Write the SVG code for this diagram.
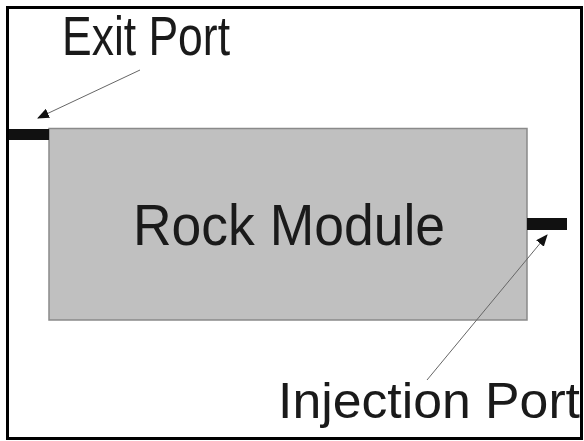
<svg xmlns="http://www.w3.org/2000/svg" width="584" height="441" viewBox="0 0 584 441">
<style>
.lbl{font-family:"Liberation Sans",Arial,sans-serif;fill:#1a1a1a;}
.port{fill:#111;}
.conn{stroke:#666;stroke-width:1;fill:none;marker-end:url(#ah);}
</style>
<defs>
<marker id="ah" markerWidth="12" markerHeight="10" refX="11" refY="5" orient="auto" markerUnits="userSpaceOnUse">
<path d="M0,0 L12,5 L0,10 Z" fill="#111"/>
</marker>
</defs>
<rect x="0" y="0" width="584" height="441" fill="#fff"/>
<rect x="7.5" y="7.5" width="574" height="431" fill="none" stroke="#000" stroke-width="3"/>
<g id="rock-module">
<rect x="49" y="128.5" width="478" height="191.5" fill="#c0c0c0" stroke="#8a8a8a" stroke-width="1.5"/>
<text class="lbl" x="133" y="245" font-size="58" textLength="312" lengthAdjust="spacingAndGlyphs">Rock Module</text>
</g>
<g id="exit-port">
<rect class="port" x="9" y="129" width="40" height="11"/>
<text class="lbl" x="62" y="55" font-size="56" textLength="168" lengthAdjust="spacingAndGlyphs">Exit Port</text>
</g>
<g id="injection-port">
<rect class="port" x="527" y="218" width="40" height="12"/>
<text class="lbl" x="278" y="418" font-size="50" textLength="302" lengthAdjust="spacingAndGlyphs">Injection Port</text>
</g>
<g id="connectors">
<line class="conn" x1="140" y1="70" x2="38" y2="118"/>
<line class="conn" x1="427" y1="380" x2="547" y2="235"/>
</g>
</svg>
